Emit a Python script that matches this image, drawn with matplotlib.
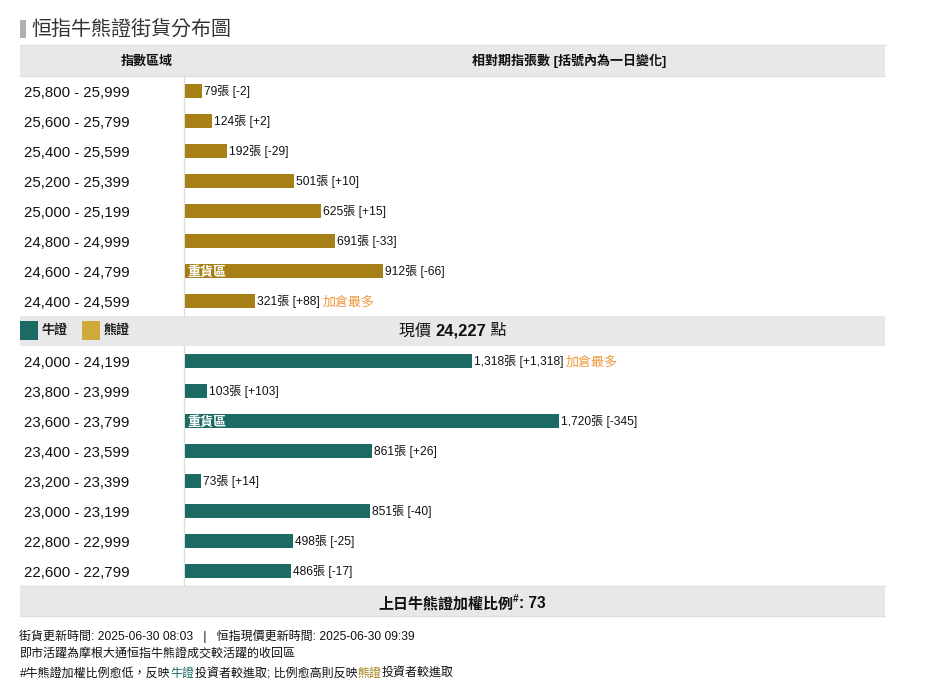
import matplotlib
matplotlib.use('Agg')
import matplotlib.pyplot as plt
from matplotlib.patches import Rectangle

plt.rcParams['font.family'] = ['Liberation Sans', 'Noto Sans CJK TC', 'DejaVu Sans']

# Dados
bear_ranges = ['25,800 - 25,999', '25,600 - 25,799', '25,400 - 25,599', '25,200 - 25,399',
               '25,000 - 25,199', '24,800 - 24,999', '24,600 - 24,799', '24,400 - 24,599']
bear_counts = [79, 124, 192, 501, 625, 691, 912, 321]
bear_changes = ['-2', '+2', '-29', '+10', '+15', '-33', '-66', '+88']
bear_notes = ['', '', '', '', '', '', '重貨區', '加倉最多']

bull_ranges = ['24,000 - 24,199', '23,800 - 23,999', '23,600 - 23,799', '23,400 - 23,599',
               '23,200 - 23,399', '23,000 - 23,199', '22,800 - 22,999', '22,600 - 22,799']
bull_counts = [1318, 103, 1720, 861, 73, 851, 498, 486]
bull_changes = ['+1,318', '+103', '-345', '+26', '+14', '-40', '-25', '-17']
bull_notes = ['加倉最多', '', '重貨區', '', '', '', '', '']

BEAR = '#A67F17'
BEAR_LIGHT = '#CFA93A'
BULL = '#1C6A64'
ORANGE = '#F09A3E'
BAND = '#E8E8E8'
INK = '#111111'


def px(size):
    return size * 72 / 100


fig = plt.figure(figsize=(9.34, 6.87), dpi=100)
bg = fig.add_axes([0, 0, 1, 1])
bg.set_xlim(0, 934)
bg.set_ylim(687, 0)
bg.axis('off')
renderer = fig.canvas.get_renderer()


def runs(x, y, parts, ha='left'):
    # escreve pedaços de texto em sequência: (texto, tamanho, peso, cor)
    if ha == 'center':
        total = 0
        for s, size, weight, color in parts:
            t = bg.text(0, y, s, fontsize=px(size), fontweight=weight)
            total += t.get_window_extent(renderer).width
            t.remove()
        x = x - total / 2
    for s, size, weight, color in parts:
        t = bg.text(x, y, s, fontsize=px(size), fontweight=weight, color=color, va='center', ha='left')
        x = t.get_window_extent(renderer).x1
    return x


# faixas e título
bg.add_patch(Rectangle((20, 20), 6, 18, color='#B0B0B0', lw=0))
bg.text(31, 30, '恒指牛熊證街貨分布圖', fontsize=px(20), color='#333333', va='center')
for top, bottom in [(45, 76), (316, 346), (586, 616)]:
    bg.add_patch(Rectangle((20, top), 865, bottom - top, color=BAND, lw=0))
bg.plot([184, 184], [76, 316], color='#DDDDDD', lw=1)
bg.plot([184, 184], [346, 586], color='#DDDDDD', lw=1)
for y in [45, 76, 586, 616]:
    bg.plot([20, 885], [y, y], color='#E0E0E0', lw=1)

bg.text(147, 62, '指數區域', fontsize=px(13), fontweight='bold', color=INK, ha='center', va='center')
bg.text(569, 61, '相對期指張數 [括號內為一日變化]', fontsize=px(13), fontweight='bold', color=INK, ha='center', va='center')

# legenda e preço atual
bg.add_patch(Rectangle((20, 321), 18, 19, color=BULL, lw=0))
bg.text(42, 331, '牛證', fontsize=px(13), fontweight='bold', color='#222222', va='center')
bg.add_patch(Rectangle((82, 321), 18, 19, color=BEAR_LIGHT, lw=0))
bg.text(104, 331, '熊證', fontsize=px(13), fontweight='bold', color='#222222', va='center')
runs(453, 331, [('現價 ', 16, 'normal', INK), ('24,227', 16.5, 'bold', INK), (' 點', 16, 'normal', INK)], ha='center')

# barras: eixo em unidades de contratos
ax = fig.add_axes([185 / 934, (687 - 586) / 687, 700 / 934, 510 / 687])
ax.patch.set_alpha(0)
ax.set_xlim(0, 700 / 0.2174)
ax.set_ylim(16.5, -0.5)
ax.axis('off')

rows = [
    (0, bear_ranges, bear_counts, bear_changes, bear_notes, BEAR),
    (9, bull_ranges, bull_counts, bull_changes, bull_notes, BULL),
]
for first, ranges, counts, changes, notes, color in rows:
    pos = [first + i for i in range(len(counts))]
    ax.barh(pos, counts, height=14 / 30, color=color, lw=0)
    for p, rng, n, ch, note in zip(pos, ranges, counts, changes, notes):
        y = 91 + 30 * p
        bg.text(24, y + 2, rng, fontsize=px(15), color=INK, va='center')
        end = ax.transData.transform((n, p))[0]
        x = runs(end + 2, y, [(f'{n:,}張 [{ch}]', 12, 'normal', INK)])
        if note == '加倉最多':
            runs(x + 3, y + 1, [(note, 13, 'normal', ORANGE)])
        elif note == '重貨區':
            ax.annotate(note, xy=(0, p), xytext=(px(2), px(-1)), textcoords='offset points',
                        fontsize=px(13), fontweight='bold', color='white', va='center')

# rodapé
x = runs(378, 604, [('上日牛熊證加權比例', 15, 'bold', INK)])
bg.text(x, 599, '#', fontsize=px(10), fontweight='bold', color=INK, va='center')
bg.text(x + 6, 604, ': 73', fontsize=px(15.5), fontweight='bold', color=INK, va='center')

bg.text(19, 636, '街貨更新時間: 2025-06-30 08:03   |   恒指現價更新時間: 2025-06-30 09:39', fontsize=px(12), color=INK, va='center')
bg.text(19, 654, '即市活躍為摩根大通恒指牛熊證成交較活躍的收回區', fontsize=px(12), color=INK, va='center')
runs(20, 674, [('#牛熊證加權比例愈低，反映', 12, 'normal', INK), ('牛證', 12, 'normal', BULL),
               ('投資者較進取; 比例愈高則反映', 12, 'normal', INK), ('熊證', 12, 'normal', BEAR),
               ('投資者較進取', 12, 'normal', INK)])

fig.savefig('out.png', dpi=100)
